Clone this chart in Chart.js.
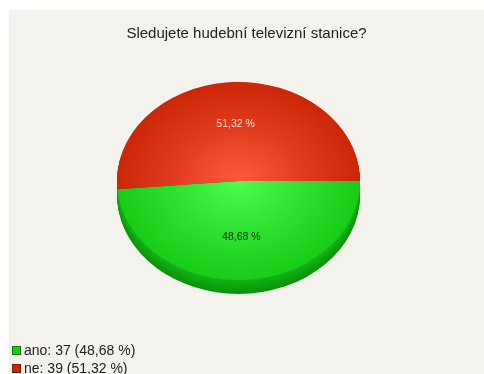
<!DOCTYPE html>
<html>
<head>
<meta charset="utf-8">
<script src="https://cdn.jsdelivr.net/npm/chart.js@4/dist/chart.umd.min.js"></script>
<style>
  html, body { margin: 0; padding: 0; background: #ffffff; overflow: hidden; width: 484px; height: 374px; }
  #panel { position: absolute; left: 9px; top: 10px; width: 475px; height: 364px; background: #f3f2ec; }
  #chart { position: absolute; left: 0; top: 0; }
  #title { position: absolute; left: 0; top: 13px; width: 475px; text-align: center; font: 15px "Liberation Sans", Arial, sans-serif; color: #222; line-height: 20px; }
  #legend { position: absolute; left: 3px; top: 331px; font: 14px "Liberation Sans", Arial, sans-serif; color: #222; }
  #legend .row { height: 18px; line-height: 18px; white-space: nowrap; }
  #legend .box { display: inline-block; width: 7px; height: 7px; margin-right: 3px; vertical-align: 0px; border: 1px solid; }
</style>
</head>
<body>
<div id="panel">
  <canvas id="chart" width="475" height="364"></canvas>
  <div id="title"></div>
  <div id="legend"></div>
</div>
<script>
// Survey answers
const title = 'Sledujete hudební televizní stanice?';
const categories = ['ano', 'ne'];
const counts = [37, 39];

// Face colours (light centre, darker rim), side colours and label colours
const faceLight = ['#4cff4c', '#ff5a3e'];
const faceDark = ['#18cc18', '#cc2608'];
const sideTop = ['#16b416', '#b02008'];
const sideBottom = ['#079407', '#8a1804'];
const labelColors = ['#0d2a0d', '#ffe0d8'];
const legendBorder = ['#0a7a0a', '#801808'];

const total = counts.reduce((a, b) => a + b, 0);
const pctText = v => (v / total * 100).toFixed(2).replace('.', ',') + ' %';

const tilt = 0.815;   // vertical squash of the pie disc
const depth = 17;     // disc thickness before squashing

function hexToRgb(h) {
  const n = parseInt(h.slice(1), 16);
  return [(n >> 16) & 255, (n >> 8) & 255, n & 255];
}
function mix(a, b, t) {
  const A = hexToRgb(a), B = hexToRgb(b);
  return 'rgb(' + A.map((v, i) => Math.round(v + (B[i] - v) * t)).join(',') + ')';
}

function faceFill(context) {
  const chart = context.chart;
  const i = context.dataIndex;
  const area = chart.chartArea;
  if (!area) return faceDark[i];
  const cx = (area.left + area.right) / 2;
  const cy = (area.top + area.bottom) / 2;
  const r = Math.min(area.right - area.left, area.bottom - area.top) / 2;
  const g = chart.ctx.createRadialGradient(cx, cy, 0, cx, cy, r);
  g.addColorStop(0, faceLight[i]);
  g.addColorStop(0.55, mix(faceLight[i], faceDark[i], 0.6));
  g.addColorStop(1, faceDark[i]);
  return g;
}

// Squash the disc and draw its side wall underneath the face
const tiltedPie = {
  id: 'tiltedPie',
  beforeDatasetsDraw(chart) {
    const ctx = chart.ctx;
    const arcs = chart.getDatasetMeta(0).data;
    if (!arcs.length) return;
    const cx = arcs[0].x, cy = arcs[0].y;
    ctx.save();
    ctx.translate(cx, cy);
    ctx.scale(1, tilt);
    ctx.translate(-cx, -cy);
    for (let d = depth; d >= 1; d--) {
      arcs.forEach((arc, i) => {
        ctx.beginPath();
        ctx.moveTo(arc.x, arc.y + d);
        ctx.arc(arc.x, arc.y + d, arc.outerRadius, arc.startAngle, arc.endAngle);
        ctx.closePath();
        ctx.fillStyle = mix(sideTop[i], sideBottom[i], d / depth);
        ctx.fill();
      });
    }
  },
  afterDatasetsDraw(chart) {
    const ctx = chart.ctx;
    const arcs = chart.getDatasetMeta(0).data;
    if (!arcs.length) return;
    ctx.restore();
    ctx.save();
    ctx.font = '10.5px "Liberation Sans", Arial, sans-serif';
    ctx.textAlign = 'center';
    ctx.textBaseline = 'middle';
    arcs.forEach((arc, i) => {
      const mid = (arc.startAngle + arc.endAngle) / 2;
      const rr = arc.outerRadius * 0.57;
      const x = arc.x + Math.cos(mid) * rr;
      const y = arc.y + Math.sin(mid) * rr * tilt;
      ctx.fillStyle = labelColors[i];
      ctx.fillText(pctText(counts[i]), x, y);
    });
    ctx.restore();
  }
};

const chart = new Chart(document.getElementById('chart'), {
  type: 'pie',
  data: {
    labels: categories,
    datasets: [{
      data: counts,
      backgroundColor: faceFill,
      borderWidth: 0,
      hoverOffset: 0
    }]
  },
  options: {
    responsive: false,
    animation: false,
    events: [],
    rotation: 90,
    layout: { padding: { left: 0, right: 16, top: 49.5, bottom: 71.5 } },
    plugins: {
      legend: { display: false },
      tooltip: { enabled: false },
      title: { display: false }
    }
  },
  plugins: [tiltedPie]
});

// Title and legend rows as text around the chart
document.getElementById('title').textContent = title;
const legend = document.getElementById('legend');
categories.forEach((name, i) => {
  const row = document.createElement('div');
  row.className = 'row';
  const box = document.createElement('span');
  box.className = 'box';
  box.style.background = faceDark[i];
  box.style.borderColor = legendBorder[i];
  row.appendChild(box);
  row.appendChild(document.createTextNode(name + ': ' + counts[i] + ' (' + pctText(counts[i]) + ')'));
  legend.appendChild(row);
});
</script>
</body>
</html>
